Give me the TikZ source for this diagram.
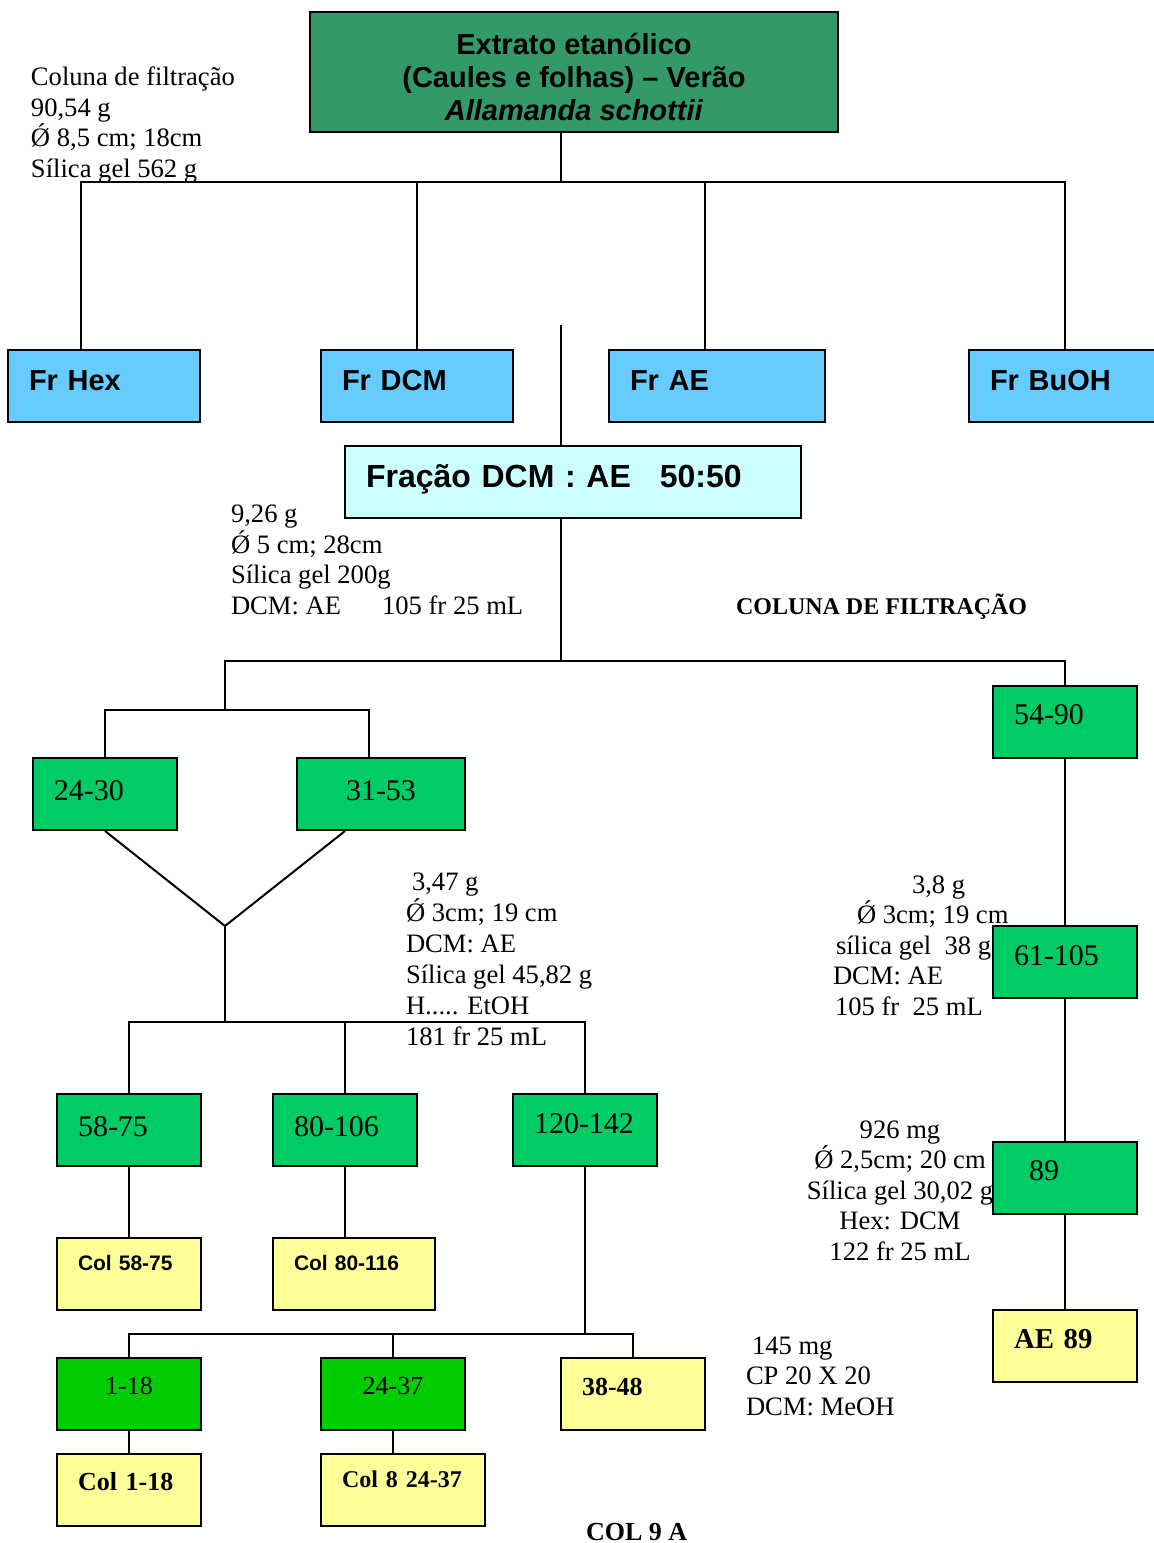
\documentclass[tikz,border=0pt]{standalone}
\usepackage{fontspec}
\setmainfont{Liberation Serif}
\newfontfamily\arial{Liberation Sans}
\definecolor{extgreen}{HTML}{339966}
\definecolor{frblue}{HTML}{66CCFF}
\definecolor{fracblue}{HTML}{CCFFFF}
\definecolor{numgreen}{HTML}{00CC66}
\definecolor{lightgreen}{HTML}{00CC00}
\definecolor{colyellow}{HTML}{FFFF99}

\begin{document}
\begin{tikzpicture}[x=0.5pt, y=-0.5pt, line width=1pt,
box/.style={draw, inner xsep=10.5pt, inner ysep=0pt, minimum height=36pt, text width=#1, align=left},
box/.default=51pt,
lift/.style={text height=#1, text depth=0pt},
drop/.style={text height=0pt, text depth=#1},
frbox/.style={box=75pt, fill=frblue, lift=4.5pt, font=\arial\bfseries\fontsize{14.5}{17}\selectfont},
numbox/.style={box, fill=numgreen, font=\fontsize{15}{17}\selectfont},
colbox/.style={box, fill=colyellow},
note/.style={anchor=base west, inner sep=0pt, align=left, font=\fontsize{13.3}{15.2}\selectfont}
]
\useasboundingbox (0,0) rectangle (1154,1543);

% extract and first partition
\node (extrato) [draw, fill=extgreen, minimum width=264pt, minimum height=60pt, inner sep=0pt, align=center,
  font=\arial\bfseries\fontsize{14.5}{16.5}\selectfont] at (574,72)
  {\rule{0pt}{16pt}Extrato etanólico\\(Caules e folhas) – Verão\\\textit{Allamanda schottii}};
\node (frhex) [frbox] at (104,386) {Fr Hex};
\node (frdcm) [frbox] at (417,386) {Fr DCM};
\node (frae) [frbox, box=87pt] at (717,386) {Fr AE};
\node (frbuoh) [frbox] at (1065,386) {Fr BuOH};
\node (fracao) [box=207pt, fill=fracblue, lift=5.5pt, font=\arial\bfseries\fontsize{16}{19}\selectfont] at (573,481.5)
  {Fração DCM : AE\hspace{14.5pt}50:50};

% column fractions
\node (f5490) [numbox, lift=2.5pt] at (1065,721.5) {54-90};
\node (f2430) [numbox, lift=6pt] at (105,794) {24-30};
\node (f3153) [numbox, box=63pt, lift=6pt, align=center] at (381,794) {31-53};
\node (f61105) [numbox, lift=3pt] at (1065,962) {61-105};
\node (f5875) [numbox, lift=6pt] at (129,1130) {58-75};
\node (f80106) [numbox, lift=6pt] at (345,1130) {80-106};
\node (f120142) [numbox, lift=3pt] at (585,1130) {120-142};
\node (f89) [numbox, lift=2pt] at (1065,1178) {\hspace*{7.5pt}89};
\node (f118) [numbox, fill=lightgreen, lift=0pt, align=center, font=\fontsize{13}{15}\selectfont] at (129,1394) {1-18};
\node (f2437) [numbox, fill=lightgreen, lift=0pt, align=center, font=\fontsize{13}{15}\selectfont] at (393,1394) {24-37};

% pooled columns
\node (c5875) [colbox, drop=4pt, font=\arial\bfseries\fontsize{10.5}{12}\selectfont] at (129,1274) {Col 58-75};
\node (c80116) [colbox, box=60pt, drop=4pt, font=\arial\bfseries\fontsize{10.5}{12}\selectfont] at (354,1274) {Col 80-116};
\node (f3848) [colbox, lift=1pt, font=\bfseries\fontsize{13}{15}\selectfont] at (633,1394) {38-48};
\node (c118) [colbox, lift=0pt, font=\bfseries\fontsize{13}{15}\selectfont] at (129,1490) {Col 1-18};
\node (c2437) [colbox, box=61pt, drop=3pt, font=\bfseries\fontsize{12}{14}\selectfont] at (403,1490) {Col 8 24-37};
\node (ae89) [colbox, lift=2pt, font=\bfseries\fontsize{14.4}{17}\selectfont] at (1065,1346) {AE 89};

% column data (base = last line)
\node (colfiltr) [note] at (30,177) {Coluna de filtração\\90,54 g\\Ǿ 8,5 cm; 18cm\\Sílica gel 562 g};
\node (col5cm) [note] at (230,614) {9,26 g\\Ǿ 5 cm; 28cm\\Sílica gel 200g\\DCM: AE\hspace{20.5pt}105 fr 25 mL};
\node (colfilt) [anchor=base west, inner sep=0pt, font=\bfseries\fontsize{12}{14}\selectfont] at (735,614) {COLUNA DE FILTRAÇÃO};
\node (col3cm) [note, font=\fontsize{13.3}{15.5}\selectfont] at (405,1045)
  {\hspace*{3pt}3,47 g\\Ǿ 3cm; 19 cm\\DCM: AE\\Sílica gel 45,82 g\\H..... EtOH\\181 fr 25 mL};
\node (col38g) [note] at (832,1015)
  {\hspace*{39.5pt}3,8 g\\\hspace*{12pt}Ǿ 3cm; 19 cm\\\hspace*{1.5pt}sílica gel\ \ 38 g\\DCM: AE\\\hspace*{1pt}105 fr\ \ 25 mL};
\node (col30g) [note, anchor=base, align=center] at (900,1260)
  {926 mg\\Ǿ 2,5cm; 20 cm\\Sílica gel 30,02 g\\Hex: DCM\\122 fr 25 mL};
\node (cp) [note] at (745,1415) {\hspace*{3pt}145 mg\\CP 20 X 20\\DCM: MeOH};
\node (col9a) [anchor=base west, inner sep=0pt, font=\bfseries\fontsize{13}{15}\selectfont] at (585,1540) {COL 9 A};

% connectors
\coordinate (bus) at (561,182);
\draw (extrato.south -| bus) -- (bus);
\draw ([xshift=-11.5pt]frhex.north) |- (bus) -| (frbuoh.north);
\draw (frdcm.north) -- (frdcm.north |- bus);
\draw ([xshift=-6pt]frae.north) -- ([xshift=-6pt]frae.north |- bus);
\draw (fracao.north -| bus) -- ++(0,-120);

\coordinate (split) at (561,661);
\coordinate (pair) at (225,710);
\draw (fracao.south -| split) -- (split);
\draw (pair) |- (split) -| (f5490.north);
\draw (f2430.north) |- (pair) -| ([xshift=-6pt]f3153.north);

\coordinate (vtip) at (225,926);
\coordinate (trio) at (225,1022);
\draw (f2430.south) -- (vtip) -- ([xshift=-18pt]f3153.south);
\draw (vtip) -- (trio);
\draw (f5875.north) |- (trio) -| (f120142.north);
\draw (f80106.north) -- (f80106.north |- trio);
\draw (f5875) -- (c5875);
\draw (f80106.south) -- (f80106.south |- c80116.north);

\coordinate (plate) at (585,1334);
\draw (f120142.south) -- (plate);
\draw (f118.north) |- (plate) -| (f3848.north);
\draw (f2437.north) -- (f2437.north |- plate);
\draw (f118) -- (c118);
\draw (f2437.south) -- (f2437.south |- c2437.north);

\draw (f5490) -- (f61105) -- (f89) -- (ae89);
\end{tikzpicture}
\end{document}
